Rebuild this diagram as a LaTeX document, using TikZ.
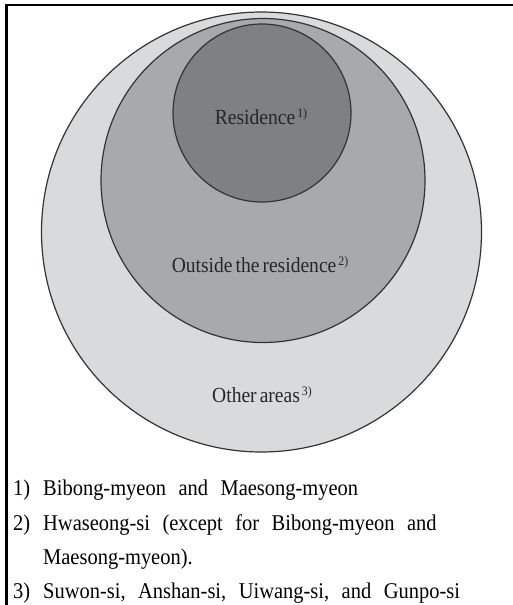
\documentclass[tikz,border=0pt]{standalone}
\usepackage{fontspec}
\setmainfont{Liberation Serif}
\newfontfamily\tallserif[FakeStretch=0.91]{Liberation Serif}
\definecolor{ringA}{HTML}{D9DADC}
\definecolor{ringB}{HTML}{A8A9AC}
\definecolor{ringC}{HTML}{7F8083}
\definecolor{ringline}{HTML}{333333}
\definecolor{labtext}{HTML}{262626}
\newcommand\fnmk[1]{\hspace{2pt}\raisebox{7pt}{\fontsize{13}{13}\selectfont #1}}
\newcommand\labsp{\spaceskip=3pt\relax}
\newcommand\fnsp{\spaceskip=12.5pt\relax}
\begin{document}
\begin{tikzpicture}[x=1pt,y=-1pt,
  ring/.style={draw=ringline, line width=1.2pt},
  lab/.style={font=\tallserif\fontsize{21.5}{24}\selectfont, text=labtext, inner sep=0pt, anchor=base},
  fn/.style={font=\tallserif\fontsize{22.5}{24}\selectfont, inner sep=0pt, anchor=base west}]
\useasboundingbox (0,0) rectangle (513,605);
\fill[white] (0,0) rectangle (513,605);
% frame
\draw[line width=2.4pt] (6.5,606) -- (6.5,4.7) -- (514,4.7);
% circles
\draw[ring, fill=ringA] (261.5,232) circle[radius=220pt];
\draw[ring, fill=ringB] (263,180.5) circle[radius=162pt];
\draw[ring, fill=ringC] (262,113) circle[radius=89pt];
% labels
\node[lab] (res) at (261,124) {\labsp Residence\fnmk{1)}};
\node[lab] (out) at (260,272) {\labsp Outside the residence\fnmk{2)}};
\node[lab] (oth) at (262,402) {\labsp Other areas\fnmk{3)}};
% footnotes
\node[fn] (m1) at (13,495) {1)};
\node[fn] (t1) at (43,495) {\fnsp Bibong-myeon and Maesong-myeon};
\node[fn] (m2) at (13,530) {2)};
\node[fn] (t2) at (43,530) {\fnsp Hwaseong-si (except for Bibong-myeon and};
\node[fn] (t2b) at (43,564) {Maesong-myeon).};
\node[fn] (m3) at (13,598) {3)};
\node[fn] (t3) at (43,598) {\fnsp Suwon-si, Anshan-si, Uiwang-si, and Gunpo-si};
\end{tikzpicture}
\end{document}
